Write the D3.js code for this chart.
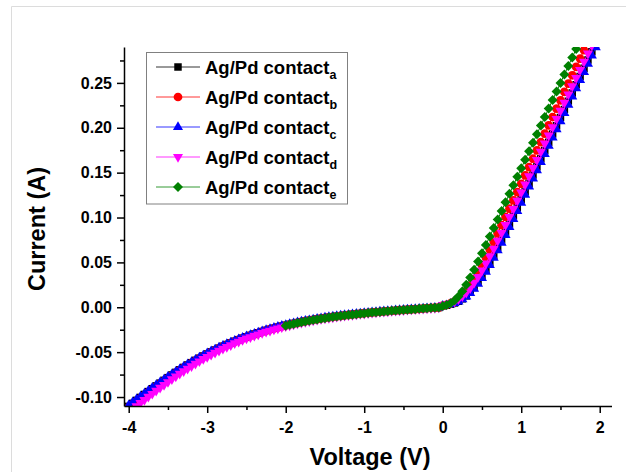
<!DOCTYPE html>
<html>
<head>
<meta charset="utf-8">
<script src="https://cdn.jsdelivr.net/npm/d3@7"></script>
<style>
html, body { margin: 0; padding: 0; background: #fff; }
svg { display: block; font-family: "Liberation Sans", Arial, sans-serif; font-weight: bold; }
</style>
</head>
<body>
<svg id="chart" width="626" height="472"></svg>
<script>
// voltage sweep (V), shared by all curves
var voltage = [
  -4.00,-3.95,-3.90,-3.85,-3.80,-3.75,-3.70,-3.65,-3.60,-3.55,
  -3.50,-3.45,-3.40,-3.35,-3.30,-3.25,-3.20,-3.15,-3.10,-3.05,
  -3.00,-2.95,-2.90,-2.85,-2.80,-2.75,-2.70,-2.65,-2.60,-2.55,
  -2.50,-2.45,-2.40,-2.35,-2.30,-2.25,-2.20,-2.15,-2.10,-2.05,
  -2.00,-1.95,-1.90,-1.85,-1.80,-1.75,-1.70,-1.65,-1.60,-1.55,
  -1.50,-1.45,-1.40,-1.35,-1.30,-1.25,-1.20,-1.15,-1.10,-1.05,
  -1.00,-0.95,-0.90,-0.85,-0.80,-0.75,-0.70,-0.65,-0.60,-0.55,
  -0.50,-0.45,-0.40,-0.35,-0.30,-0.25,-0.20,-0.15,-0.10,-0.05,
  0.00,0.05,0.10,0.15,0.20,0.25,0.30,0.35,0.40,0.45,
  0.50,0.55,0.60,0.65,0.70,0.75,0.80,0.85,0.90,0.95,
  1.00,1.05,1.10,1.15,1.20,1.25,1.30,1.35,1.40,1.45,
  1.50,1.55,1.60,1.65,1.70,1.75,1.80,1.85,1.90,1.95,
  2.00
];

// current (A) of each contact, starting at the voltage given in seriesFrom
var currentA = [
  -0.1104,-0.1070,-0.1037,-0.1004,-0.0971,-0.0939,-0.0907,-0.0876,-0.0845,-0.0814,
  -0.0784,-0.0754,-0.0725,-0.0697,-0.0670,-0.0643,-0.0617,-0.0591,-0.0567,-0.0543,
  -0.0520,-0.0497,-0.0476,-0.0455,-0.0434,-0.0415,-0.0396,-0.0378,-0.0361,-0.0344,
  -0.0328,-0.0313,-0.0298,-0.0284,-0.0270,-0.0257,-0.0245,-0.0233,-0.0221,-0.0210,
  -0.0200,-0.0190,-0.0180,-0.0171,-0.0162,-0.0154,-0.0146,-0.0138,-0.0131,-0.0124,
  -0.0117,-0.0111,-0.0105,-0.0100,-0.0094,-0.0089,-0.0084,-0.0079,-0.0074,-0.0070,
  -0.0066,-0.0062,-0.0058,-0.0054,-0.0050,-0.0046,-0.0043,-0.0039,-0.0036,-0.0032,
  -0.0029,-0.0026,-0.0023,-0.0020,-0.0017,-0.0014,-0.0011,-0.0008,-0.0005,-0.0003,
  0.0016,0.0023,0.0034,0.0048,0.0067,0.0094,0.0127,0.0170,0.0221,0.0280,
  0.0347,0.0420,0.0498,0.0580,0.0665,0.0752,0.0840,0.0929,0.1019,0.1109,
  0.1200,0.1291,0.1382,0.1474,0.1565,0.1656,0.1748,0.1839,0.1931,0.2022,
  0.2114,0.2205,0.2297,0.2388,0.2480,0.2571,0.2663,0.2754,0.2846,0.2937
];
var currentB = [
  -0.1115,-0.1081,-0.1048,-0.1014,-0.0981,-0.0949,-0.0917,-0.0885,-0.0854,-0.0823,
  -0.0792,-0.0762,-0.0733,-0.0704,-0.0676,-0.0649,-0.0623,-0.0598,-0.0573,-0.0549,
  -0.0525,-0.0502,-0.0480,-0.0459,-0.0439,-0.0419,-0.0400,-0.0382,-0.0364,-0.0348,
  -0.0332,-0.0316,-0.0301,-0.0287,-0.0273,-0.0260,-0.0247,-0.0235,-0.0223,-0.0212,
  -0.0202,-0.0192,-0.0182,-0.0173,-0.0164,-0.0155,-0.0147,-0.0139,-0.0132,-0.0125,
  -0.0118,-0.0112,-0.0106,-0.0101,-0.0095,-0.0090,-0.0085,-0.0080,-0.0075,-0.0071,
  -0.0066,-0.0062,-0.0058,-0.0054,-0.0050,-0.0047,-0.0043,-0.0039,-0.0036,-0.0033,
  -0.0029,-0.0026,-0.0023,-0.0020,-0.0017,-0.0014,-0.0011,-0.0008,-0.0005,-0.0003,
  0.0018,0.0028,0.0043,0.0064,0.0094,0.0133,0.0182,0.0242,0.0311,0.0387,
  0.0468,0.0554,0.0642,0.0731,0.0822,0.0914,0.1006,0.1098,0.1191,0.1284,
  0.1376,0.1469,0.1562,0.1655,0.1748,0.1841,0.1934,0.2027,0.2120,0.2213,
  0.2306,0.2399,0.2492,0.2585,0.2678,0.2771,0.2864,0.2957
];
var currentC = [
  -0.1092,-0.1059,-0.1026,-0.0994,-0.0961,-0.0930,-0.0898,-0.0867,-0.0836,-0.0806,
  -0.0776,-0.0747,-0.0718,-0.0690,-0.0663,-0.0636,-0.0610,-0.0585,-0.0561,-0.0537,
  -0.0514,-0.0492,-0.0471,-0.0450,-0.0430,-0.0411,-0.0392,-0.0374,-0.0357,-0.0341,
  -0.0325,-0.0310,-0.0295,-0.0281,-0.0268,-0.0255,-0.0242,-0.0230,-0.0219,-0.0208,
  -0.0198,-0.0188,-0.0178,-0.0169,-0.0160,-0.0152,-0.0144,-0.0136,-0.0129,-0.0122,
  -0.0116,-0.0110,-0.0104,-0.0099,-0.0093,-0.0088,-0.0083,-0.0078,-0.0074,-0.0069,
  -0.0065,-0.0061,-0.0057,-0.0053,-0.0049,-0.0046,-0.0042,-0.0039,-0.0035,-0.0032,
  -0.0029,-0.0026,-0.0023,-0.0020,-0.0017,-0.0014,-0.0011,-0.0008,-0.0005,-0.0003,
  0.0016,0.0023,0.0033,0.0046,0.0064,0.0088,0.0119,0.0158,0.0206,0.0262,
  0.0325,0.0395,0.0470,0.0550,0.0633,0.0718,0.0805,0.0894,0.0983,0.1073,
  0.1163,0.1254,0.1344,0.1435,0.1526,0.1617,0.1708,0.1800,0.1891,0.1982,
  0.2073,0.2165,0.2256,0.2347,0.2438,0.2530,0.2621,0.2712,0.2803,0.2895,
  0.2986
];
var currentD = [
  -0.1172,-0.1137,-0.1101,-0.1066,-0.1032,-0.0997,-0.0964,-0.0930,-0.0897,-0.0865,
  -0.0833,-0.0801,-0.0770,-0.0740,-0.0711,-0.0683,-0.0655,-0.0628,-0.0602,-0.0576,
  -0.0552,-0.0528,-0.0505,-0.0483,-0.0461,-0.0441,-0.0421,-0.0401,-0.0383,-0.0365,
  -0.0348,-0.0332,-0.0317,-0.0302,-0.0287,-0.0273,-0.0260,-0.0247,-0.0235,-0.0223,
  -0.0212,-0.0201,-0.0191,-0.0181,-0.0172,-0.0163,-0.0155,-0.0146,-0.0139,-0.0131,
  -0.0124,-0.0118,-0.0112,-0.0106,-0.0100,-0.0094,-0.0089,-0.0084,-0.0079,-0.0074,
  -0.0070,-0.0065,-0.0061,-0.0057,-0.0053,-0.0049,-0.0045,-0.0042,-0.0038,-0.0034,
  -0.0031,-0.0028,-0.0024,-0.0021,-0.0018,-0.0015,-0.0012,-0.0009,-0.0006,-0.0003,
  0.0023,0.0032,0.0046,0.0065,0.0090,0.0123,0.0164,0.0214,0.0273,0.0339,
  0.0411,0.0489,0.0570,0.0654,0.0741,0.0829,0.0918,0.1007,0.1097,0.1188,
  0.1279,0.1370,0.1461,0.1552,0.1643,0.1734,0.1825,0.1916,0.2008,0.2099,
  0.2190,0.2281,0.2373,0.2464,0.2555,0.2646,0.2738,0.2829,0.2920
];
var currentE = [
  -0.0206,-0.0196,-0.0186,-0.0176,-0.0167,-0.0158,-0.0150,-0.0142,-0.0135,-0.0128,
  -0.0121,-0.0115,-0.0109,-0.0103,-0.0097,-0.0092,-0.0087,-0.0082,-0.0077,-0.0072,
  -0.0068,-0.0064,-0.0059,-0.0055,-0.0052,-0.0048,-0.0044,-0.0040,-0.0037,-0.0033,
  -0.0030,-0.0027,-0.0024,-0.0021,-0.0017,-0.0014,-0.0011,-0.0009,-0.0006,-0.0003,
  0.0014,0.0026,0.0045,0.0076,0.0120,0.0179,0.0251,0.0332,0.0419,0.0509,
  0.0601,0.0695,0.0789,0.0884,0.0979,0.1074,0.1169,0.1264,0.1359,0.1454,
  0.1549,0.1644,0.1739,0.1834,0.1929,0.2024,0.2119,0.2214,0.2309,0.2404,
  0.2499,0.2594,0.2689,0.2784,0.2879,0.2974
];

var seriesNames = ["a", "b", "c", "d", "e"];
var seriesFrom = [-4.00, -4.00, -4.00, -4.00, -2.00];

// axis ranges and ticks
var xDomain = [-4.06, 2.15];
var yDomain = [-0.11, 0.29];
var xTicks = [-4, -3, -2, -1, 0, 1, 2];
var xMinor = [-3.5, -2.5, -1.5, -0.5, 0.5, 1.5];
var yTicks = [-0.10, -0.05, 0.00, 0.05, 0.10, 0.15, 0.20, 0.25];
var yMinor = [-0.075, -0.025, 0.025, 0.075, 0.125, 0.175, 0.225, 0.275];

drawChart();

function drawChart() {
    // marker styles
    var styles = [
        { color: "#000000", type: d3.symbolSquare, size: 56, rot: 0 },
        { color: "#ff0000", type: d3.symbolCircle, size: 60, rot: 0 },
        { color: "#0000ff", type: d3.symbolTriangle, size: 44, rot: 0 },
        { color: "#ff00ff", type: d3.symbolTriangle, size: 44, rot: 180 },
        { color: "#008000", type: d3.symbolSquare, size: 50, rot: 45 }
    ];
    var currents = [currentA, currentB, currentC, currentD, currentE];

    var svg = d3.select("#chart");
    var font = "'Liberation Sans', Arial, sans-serif";

    // light frame of the figure
    svg.append("path")
        .attr("d", "M11.5,472V6.5H626")
        .attr("fill", "none")
        .attr("stroke", "#dcdcdc")
        .attr("stroke-width", 1);

    var pLeft = 124, pRight = 611.5, pTop = 47, pBottom = 406;
    var x = d3.scaleLinear().domain(xDomain).range([pLeft, pRight]);
    var y = d3.scaleLinear().domain(yDomain).range([pBottom, pTop]);

    svg.append("clipPath").attr("id", "plotclip")
        .append("rect")
        .attr("x", pLeft).attr("y", pTop)
        .attr("width", pRight - pLeft).attr("height", pBottom - pTop);

    var plot = svg.append("g").attr("clip-path", "url(#plotclip)");

    var line = d3.line()
        .x(function(d) { return x(d[0]); })
        .y(function(d) { return y(d[1]); });

    currents.forEach(function(vals, k) {
        var st = styles[k];
        var start = voltage.indexOf(seriesFrom[k]);
        var pts = vals.map(function(v, i) { return [voltage[start + i], v]; });

        plot.append("path")
            .datum(pts)
            .attr("d", line)
            .attr("fill", "none")
            .attr("stroke", st.color)
            .attr("stroke-width", 1);

        plot.append("g")
            .selectAll("path")
            .data(pts)
            .enter()
            .append("path")
            .attr("d", d3.symbol().type(st.type).size(st.size))
            .attr("transform", function(d) {
                return "translate(" + x(d[0]) + "," + y(d[1]) + ") rotate(" + st.rot + ")";
            })
            .attr("fill", st.color);
    });

    // axes
    function styleAxis(g) {
        g.attr("font-family", font).attr("font-weight", "bold").attr("font-size", 16);
        g.selectAll("path, line").attr("stroke", "#000").attr("stroke-width", 1.5);
        g.selectAll("text").attr("fill", "#000");
    }

    svg.append("g")
        .attr("transform", "translate(0," + pBottom + ")")
        .call(d3.axisBottom(x).tickValues(xMinor).tickSize(4).tickFormat("").tickSizeOuter(0))
        .call(styleAxis)
        .call(function(g) { g.select(".domain").remove(); });

    svg.append("g")
        .attr("transform", "translate(0," + pBottom + ")")
        .call(d3.axisBottom(x).tickValues(xTicks).tickSize(7).tickPadding(9)
            .tickFormat(function(d) { return String(d); }).tickSizeOuter(0))
        .call(styleAxis);

    svg.append("g")
        .attr("transform", "translate(" + pLeft + ",0)")
        .call(d3.axisLeft(y).tickValues(yMinor).tickSize(4).tickFormat("").tickSizeOuter(0))
        .call(styleAxis)
        .call(function(g) { g.select(".domain").remove(); });

    svg.append("g")
        .attr("transform", "translate(" + pLeft + ",0)")
        .call(d3.axisLeft(y).tickValues(yTicks).tickSize(7).tickPadding(5)
            .tickFormat(function(d) { return d.toFixed(2); }).tickSizeOuter(0))
        .call(styleAxis);

    // axis titles
    svg.append("text")
        .attr("x", 370).attr("y", 465)
        .attr("text-anchor", "middle")
        .attr("font-size", 23.5)
        .text("Voltage (V)");

    svg.append("text")
        .attr("transform", "translate(45,229) rotate(-90)")
        .attr("text-anchor", "middle")
        .attr("font-size", 23.5)
        .text("Current (A)");

    // legend
    var legend = svg.append("g");
    legend.append("rect")
        .attr("x", 146.5).attr("y", 52.5)
        .attr("width", 201).attr("height", 151.5)
        .attr("fill", "#fff")
        .attr("stroke", "#808080")
        .attr("stroke-width", 1);

    seriesNames.forEach(function(name, k) {
        var st = styles[k];
        var cy = 67 + k * 30;
        legend.append("line")
            .attr("x1", 156).attr("x2", 200)
            .attr("y1", cy).attr("y2", cy)
            .attr("stroke", st.color)
            .attr("stroke-width", 0.8);
        legend.append("path")
            .attr("d", d3.symbol().type(st.type).size(st.size)())
            .attr("transform", "translate(178," + cy + ") rotate(" + st.rot + ")")
            .attr("fill", st.color);
        var t = legend.append("text")
            .attr("x", 205).attr("y", cy + 7)
            .attr("font-size", 18.5);
        t.append("tspan").text("Ag/Pd contact");
        t.append("tspan").attr("dy", 5).attr("font-size", 12.5).text(name);
    });
}
</script>
</body>
</html>
